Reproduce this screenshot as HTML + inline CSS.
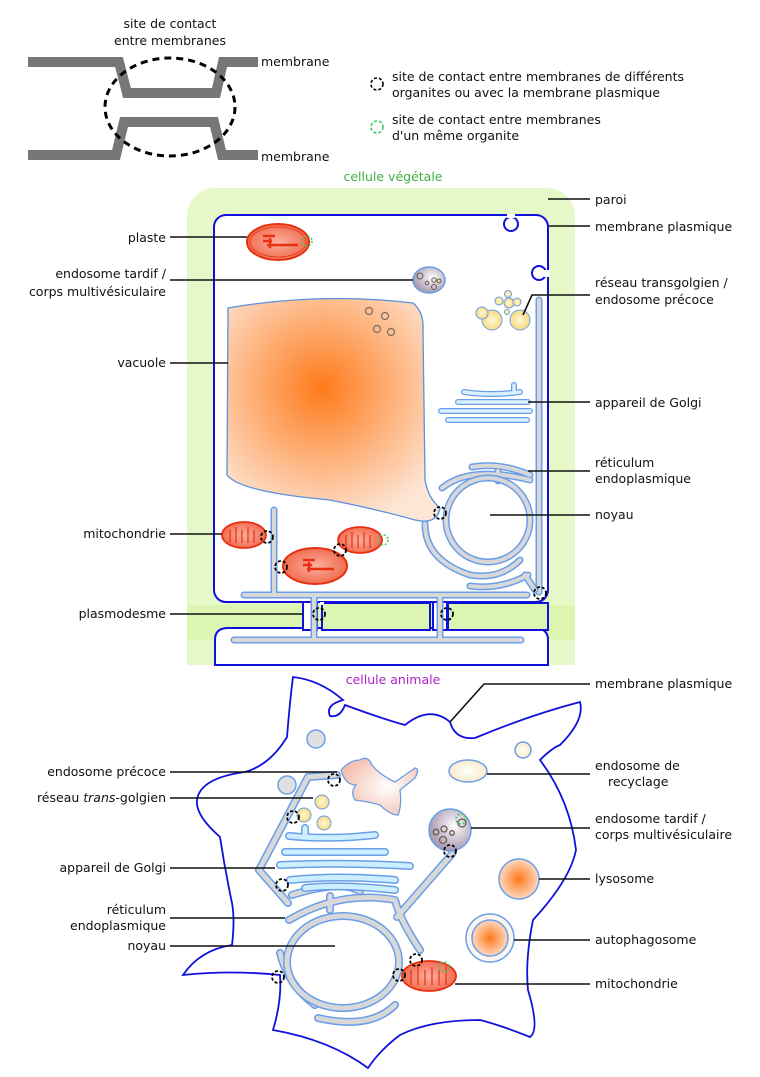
<!DOCTYPE html>
<html><head><meta charset="utf-8"><style>
html,body{margin:0;padding:0;background:#fff}
svg{display:block}
text{font-family:"DejaVu Sans","Liberation Sans",sans-serif;font-size:12.5px;fill:#111}
</style></head><body>
<svg width="760" height="1077" viewBox="0 0 760 1077" xmlns="http://www.w3.org/2000/svg">
<defs>
<radialGradient id="vac" cx="322" cy="388" r="140" gradientUnits="userSpaceOnUse">
<stop offset="0" stop-color="#ff7a1a"/><stop offset="1" stop-color="#fde6d6"/></radialGradient>
<radialGradient id="lys" cx="0.5" cy="0.5" r="0.5"><stop offset="0" stop-color="#ff7a1a"/><stop offset="1" stop-color="#fdd8c0"/></radialGradient>
<radialGradient id="mvb" cx="0.6" cy="0.4" r="0.6"><stop offset="0" stop-color="#fff"/><stop offset="1" stop-color="#a898b0"/></radialGradient>
<radialGradient id="yel" cx="0.5" cy="0.5" r="0.5"><stop offset="0" stop-color="#fff8d8"/><stop offset="1" stop-color="#f8dc80"/></radialGradient>
<radialGradient id="pink" cx="0.6" cy="0.5" r="0.6"><stop offset="0" stop-color="#fff"/><stop offset="1" stop-color="#f4c0b0"/></radialGradient>
<radialGradient id="cream" cx="0.5" cy="0.5" r="0.5"><stop offset="0" stop-color="#fff"/><stop offset="1" stop-color="#faeac8"/></radialGradient>
<radialGradient id="mito" cx="0.5" cy="0.5" r="0.6"><stop offset="0" stop-color="#fbb0a0"/><stop offset="1" stop-color="#f06040"/></radialGradient>
</defs>

<!-- contact site figure -->
<g fill="none" stroke="#777" stroke-width="10">
<polyline points="28,62 119,62 127,93 216,93 223,62 258,62"/>
<polyline points="28,155 116,155 124,122 214,122 222,155 258,155"/>
</g>
<ellipse cx="170" cy="107" rx="65" ry="49" fill="none" stroke="#000" stroke-width="3" stroke-dasharray="7,5"/>
<text x="170" y="28" text-anchor="middle">site de contact</text>
<text x="170" y="45" text-anchor="middle">entre membranes</text>
<text x="261" y="66">membrane</text>
<text x="261" y="161">membrane</text>

<circle cx="377" cy="84" r="6" fill="none" stroke="#000" stroke-width="1.6" stroke-dasharray="3,2"/>
<circle cx="377" cy="127" r="6" fill="none" stroke="#3c6" stroke-width="1.6" stroke-dasharray="3,2"/>
<text x="392" y="81">site de contact entre membranes de différents</text>
<text x="392" y="97">organites ou avec la membrane plasmique</text>
<text x="392" y="124">site de contact entre membranes</text>
<text x="392" y="140">d'un même organite</text>

<!-- plant cell -->
<text x="393" y="181" text-anchor="middle" style="fill:#3fb03f">cellule végétale</text>
<rect x="187" y="188" width="388" height="440" rx="28" fill="#e6f8c8"/>
<rect x="187" y="605" width="388" height="60" fill="#dcf5b0"/>
<rect x="214" y="215" width="334" height="387" rx="12" fill="#fff" stroke="#1010dd" stroke-width="2"/>
<path d="M215,665 L215,640 Q215,628 228,628 L534,628 Q548,628 548,640 L548,665 Z" fill="#fff" stroke="#1010dd" stroke-width="2"/>
<rect x="187" y="640" width="27" height="25" fill="#e6f8c8"/><rect x="549" y="640" width="26" height="25" fill="#e6f8c8"/>
<!-- plasmodesma region -->
<rect x="303" y="602" width="14" height="28" fill="#fff" stroke="#1010dd" stroke-width="2"/>
<rect x="322" y="603" width="108" height="27" fill="#dcf5b0" stroke="#1010dd" stroke-width="2"/>
<rect x="433" y="602" width="14" height="28" fill="#fff" stroke="#1010dd" stroke-width="2"/>
<rect x="448" y="603" width="100" height="27" fill="#dcf5b0" stroke="#1010dd" stroke-width="2"/>
<rect x="320" y="602" width="4" height="3" fill="#fff"/>
<g fill="none" stroke-linecap="round">
<path d="M244,595 L527,595 M314,595 L314,640 M440,595 L440,640 M234,640 L521,640 M274,595 L274,510 M539,592 L539,300" stroke="#6a9ee8" stroke-width="7"/>
<path d="M244,595 L527,595 M314,595 L314,640 M440,595 L440,640 M234,640 L521,640 M274,595 L274,510 M539,592 L539,300" stroke="#d8d8d8" stroke-width="4"/>
</g>
<!-- endocytic pits -->
<circle cx="511" cy="224" r="7" fill="#fff" stroke="#1010dd" stroke-width="2"/>
<rect x="507" y="214" width="8" height="4" fill="#fff"/>
<circle cx="539" cy="273" r="7" fill="#fff" stroke="#1010dd" stroke-width="2"/>
<rect x="544" y="270" width="6" height="7" fill="#fff"/>
<!-- vacuole -->
<path d="M228,308 Q320,292 413,303 Q424,312 423,330 L425,480 Q428,498 440,508 Q437,525 415,520 Q380,510 330,500 Q240,492 227,475 Z" fill="url(#vac)" stroke="#5a90e0" stroke-width="1.3"/>
<g fill="none" stroke="#7a6a60" stroke-width="1.2"><circle cx="369" cy="311" r="3.5"/><circle cx="385" cy="316" r="3.5"/><circle cx="377" cy="329" r="3.5"/><circle cx="391" cy="332" r="3.5"/></g>
<!-- plaste -->
<ellipse cx="278" cy="242" rx="31" ry="18" fill="url(#mito)" stroke="#e83010" stroke-width="2"/>
<ellipse cx="278" cy="242" rx="28" ry="15" fill="none" stroke="#e83010" stroke-width="0.8"/>
<path d="M263,236 H275 M263,241 H272 M267,245 H298 M270,238 V248" stroke="#e83010" stroke-width="2.5" fill="none"/>
<circle cx="307" cy="241" r="5" fill="none" stroke="#3c6" stroke-width="1.5" stroke-dasharray="2,2"/>
<!-- MVB plant -->
<ellipse cx="429" cy="280" rx="16" ry="13" fill="url(#mvb)" stroke="#6a9ee8" stroke-width="1.5"/>
<g fill="none" stroke="#6a5a50" stroke-width="1"><circle cx="420" cy="276" r="3"/><circle cx="434" cy="280" r="2.2"/><circle cx="427" cy="283" r="1.8"/><circle cx="439" cy="281" r="2"/><circle cx="434" cy="287" r="2.5"/></g>
<!-- TGN -->
<g fill="url(#yel)" stroke="#6a9ee8" stroke-width="1"><circle cx="492" cy="320" r="10"/><circle cx="520" cy="320" r="10"/><circle cx="482" cy="313" r="6"/><circle cx="509" cy="303" r="5"/><circle cx="517" cy="302" r="4"/><circle cx="508" cy="294" r="3.5"/><circle cx="507" cy="312" r="2.5"/><circle cx="499" cy="301" r="4"/></g>
<path d="M523,315 L532,295 L590,295" fill="none" stroke="#111" stroke-width="1.6"/>
<!-- Golgi plant -->
<g fill="none" stroke-linecap="round">
<path d="M464,392 Q490,396 520,392 M458,402 H528 M441,411 H530 M448,420 H527 M514,385 V392" stroke="#6a9ee8" stroke-width="6"/>
<path d="M464,392 Q490,396 520,392 M458,402 H528 M441,411 H530 M448,420 H527 M514,385 V392" stroke="#d8f0ff" stroke-width="3.5"/>
</g>
<!-- plant nucleus + ER -->
<g fill="none" stroke-linecap="round">
<path d="M472,467 Q500,462 530,475 M442,488 Q470,465 530,480 M425,524 Q425,560 470,575 Q500,580 520,560 M470,586 Q500,590 528,575 M525,575 L535,590 M498,471 L498,481" stroke="#6a9ee8" stroke-width="7"/>
<path d="M472,467 Q500,462 530,475 M442,488 Q470,465 530,480 M425,524 Q425,560 470,575 Q500,580 520,560 M470,586 Q500,590 528,575 M525,575 L535,590 M498,471 L498,481" stroke="#d8d8d8" stroke-width="4"/>
</g>
<circle cx="488" cy="520" r="42" fill="none" stroke="#6a9ee8" stroke-width="7"/>
<circle cx="488" cy="520" r="42" fill="none" stroke="#d8d8d8" stroke-width="4"/>
<!-- plant mitochondria -->
<g>
<ellipse cx="244" cy="535" rx="22" ry="13" fill="url(#mito)" stroke="#e83010" stroke-width="1.8"/>
<path d="M230,543 V530 M236,543 V527 M242,543 V530 M248,543 V527 M254,543 V530" stroke="#e83010" stroke-width="1.2" fill="none"/>
<ellipse cx="360" cy="540" rx="22" ry="13" fill="url(#mito)" stroke="#e83010" stroke-width="1.8"/>
<path d="M346,548 V535 M352,548 V532 M358,548 V535 M364,548 V532 M370,548 V535" stroke="#e83010" stroke-width="1.2" fill="none"/>
<ellipse cx="315" cy="566" rx="32" ry="18" fill="url(#mito)" stroke="#e83010" stroke-width="2"/>
<path d="M303,560 H315 M303,565 H312 M307,569 H334 M309,562 V572" stroke="#e83010" stroke-width="2.5" fill="none"/>
</g>
<g fill="none" stroke="#000" stroke-width="1.8" stroke-dasharray="3,2">
<circle cx="267" cy="537" r="6"/><circle cx="340" cy="550" r="6"/><circle cx="281" cy="567" r="6"/><circle cx="440" cy="513" r="6"/><circle cx="540" cy="593" r="6"/><circle cx="319" cy="614" r="6"/><circle cx="447" cy="614" r="6"/>
</g>
<circle cx="383" cy="540" r="5" fill="none" stroke="#3c6" stroke-width="1.5" stroke-dasharray="2,2"/>

<!-- plant labels -->
<g stroke="#111" stroke-width="1.6">
<line x1="548" y1="199" x2="590" y2="199"/><line x1="549" y1="226" x2="590" y2="226"/>
<line x1="528" y1="402" x2="590" y2="402"/><line x1="528" y1="471" x2="590" y2="471"/><line x1="490" y1="515" x2="590" y2="515"/>
<line x1="170" y1="237" x2="247" y2="237"/><line x1="170" y1="280" x2="413" y2="280"/><line x1="170" y1="363" x2="228" y2="363"/>
<line x1="170" y1="534" x2="222" y2="534"/><line x1="170" y1="614" x2="303" y2="614"/>
</g>
<text x="595" y="204">paroi</text><text x="595" y="231">membrane plasmique</text>
<text x="595" y="287">réseau transgolgien /</text><text x="595" y="304">endosome précoce</text>
<text x="595" y="407">appareil de Golgi</text>
<text x="595" y="467">réticulum</text><text x="595" y="483">endoplasmique</text>
<text x="595" y="519">noyau</text>
<g text-anchor="end">
<text x="166" y="242">plaste</text>
<text x="166" y="278">endosome tardif /</text><text x="166" y="296">corps multivésiculaire</text>
<text x="166" y="367">vacuole</text><text x="166" y="538">mitochondrie</text><text x="166" y="618">plasmodesme</text>
</g>

<!-- animal cell -->
<text x="393" y="684" text-anchor="middle" style="fill:#b020c8">cellule animale</text>
<path d="M293,677 Q320,680 343,700 Q325,705 330,716 Q340,718 345,705 Q380,718 405,725 Q430,705 450,722 Q455,740 475,738 Q530,715 580,702 Q585,720 560,745 Q552,748 540,760 Q570,800 576,850 Q570,880 533,920 Q525,960 528,990 Q540,1030 530,1037 Q500,1025 480,1020 Q430,1020 400,1035 Q380,1050 368,1068 Q330,1040 273,1030 Q282,1000 280,975 Q230,970 183,975 Q200,950 232,945 Q235,920 232,903 Q225,870 220,837 Q195,815 197,800 Q200,778 245,772 Q270,765 287,737 Q290,700 293,677 Z" fill="#fff" stroke="#1010dd" stroke-width="1.8"/>
<circle cx="316" cy="739" r="9" fill="#e0e0e0" stroke="#6a9ee8" stroke-width="1.5"/>
<circle cx="287" cy="785" r="9" fill="#e0e0e0" stroke="#6a9ee8" stroke-width="1.5"/>
<circle cx="523" cy="750" r="8" fill="url(#cream)" stroke="#6a9ee8" stroke-width="1.5"/>
<ellipse cx="468" cy="771" rx="19" ry="11" fill="url(#cream)" stroke="#6a9ee8" stroke-width="1.5"/>
<circle cx="519" cy="879" r="20" fill="url(#lys)" stroke="#6a9ee8" stroke-width="1.5"/>
<circle cx="490" cy="938" r="24" fill="#fdf6ee" stroke="#6a9ee8" stroke-width="1.5"/>
<circle cx="490" cy="938" r="18" fill="url(#lys)" stroke="#6a9ee8" stroke-width="1.5"/>
<!-- early endosome blob -->
<path d="M341,770 Q350,760 360,760 Q368,755 372,765 Q380,775 395,782 L415,768 Q420,768 415,778 L400,790 Q402,805 398,815 Q390,815 380,805 Q370,802 355,800 Q350,792 356,785 Q345,785 341,770 Z" fill="url(#pink)" stroke="#6a9ee8" stroke-width="1.3"/>
<g fill="url(#yel)" stroke="#6a9ee8" stroke-width="1"><circle cx="322" cy="802" r="7"/><circle cx="304" cy="815" r="7"/><circle cx="324" cy="823" r="7"/></g>
<!-- MVB animal -->
<circle cx="450" cy="830" r="21" fill="url(#mvb)" stroke="#6a9ee8" stroke-width="1.5"/>
<g fill="none" stroke="#6a5a50" stroke-width="1.3"><circle cx="436" cy="832" r="2.8"/><circle cx="444" cy="829" r="3"/><circle cx="452" cy="833" r="2.3"/><circle cx="443" cy="840" r="3.5"/><circle cx="462" cy="823" r="4"/></g>
<circle cx="461" cy="819" r="5" fill="none" stroke="#3c6" stroke-width="1.5" stroke-dasharray="2,2"/>
<!-- animal ER tubes -->
<g fill="none" stroke-linecap="round" stroke-linejoin="round">
<g id="er">
<path d="M337,775 L308,777 L259,870 L288,903 M397,917 L452,854 M292,895 Q340,880 360,891 M289,920 Q340,890 395,900 Q400,920 420,950 M300,948 Q295,1005 340,1010 Q390,1010 400,990 M318,1018 Q370,1030 395,1005 M280,953 Q288,985 315,1005 M330,896 V910"/>
</g>
</g>
<g fill="none" stroke-linecap="round" stroke-linejoin="round">
<path d="M337,775 L308,777 L259,870 L288,903 M397,917 L452,854 M292,895 Q340,880 360,891 M289,920 Q340,890 395,900 Q400,920 420,950 M280,953 Q288,985 315,1005 M318,1018 Q370,1030 395,1005 M330,896 V910" stroke="#6a9ee8" stroke-width="8"/>
<path d="M337,775 L308,777 L259,870 L288,903 M397,917 L452,854 M292,895 Q340,880 360,891 M289,920 Q340,890 395,900 Q400,920 420,950 M280,953 Q288,985 315,1005 M318,1018 Q370,1030 395,1005 M330,896 V910" stroke="#d8d8d8" stroke-width="5"/>
</g>
<ellipse cx="343" cy="962" rx="56" ry="46" fill="none" stroke="#6a9ee8" stroke-width="8"/>
<ellipse cx="343" cy="962" rx="56" ry="46" fill="none" stroke="#d8d8d8" stroke-width="5"/>
<!-- animal Golgi -->
<g fill="none" stroke-linecap="round">
<path d="M289,836 Q330,840 375,835 M285,852 H385 M280,865 Q340,862 410,866 M290,880 Q340,875 395,880 M305,888 Q340,884 395,890 M305,828 V836" stroke="#6a9ee8" stroke-width="8"/>
<path d="M289,836 Q330,840 375,835 M285,852 H385 M280,865 Q340,862 410,866 M290,880 Q340,875 395,880 M305,888 Q340,884 395,890 M305,828 V836" stroke="#ccefff" stroke-width="5"/>
</g>
<!-- animal mito -->
<ellipse cx="429" cy="976" rx="27" ry="15" fill="url(#mito)" stroke="#e83010" stroke-width="1.8"/>
<path d="M411,985 V970 M418,985 V967 M425,985 V970 M432,985 V967 M439,985 V970 M446,985 V967" stroke="#e83010" stroke-width="1.2" fill="none"/>
<circle cx="444" cy="967" r="5" fill="none" stroke="#3c6" stroke-width="1.5" stroke-dasharray="2,2"/>
<g fill="none" stroke="#000" stroke-width="1.8" stroke-dasharray="3,2">
<circle cx="334" cy="780" r="6"/><circle cx="293" cy="817" r="6"/><circle cx="282" cy="885" r="6"/><circle cx="450" cy="851" r="6"/><circle cx="416" cy="960" r="6"/><circle cx="399" cy="975" r="6"/><circle cx="278" cy="977" r="6"/>
</g>
<!-- animal labels -->
<g stroke="#111" stroke-width="1.6" fill="none">
<polyline points="450,722 484,684 590,684"/>
<line x1="487" y1="774" x2="590" y2="774"/><line x1="471" y1="828" x2="590" y2="828"/>
<line x1="539" y1="879" x2="590" y2="879"/><line x1="514" y1="940" x2="590" y2="940"/><line x1="455" y1="984" x2="590" y2="984"/>
<line x1="170" y1="772" x2="337" y2="772"/><line x1="170" y1="798" x2="313" y2="798"/><line x1="170" y1="868" x2="275" y2="868"/>
<line x1="170" y1="918" x2="285" y2="918"/><line x1="170" y1="946" x2="335" y2="946"/>
</g>
<text x="595" y="688">membrane plasmique</text>
<text x="595" y="770">endosome de</text><text x="608" y="786">recyclage</text>
<text x="595" y="823">endosome tardif /</text><text x="595" y="839">corps multivésiculaire</text>
<text x="595" y="883">lysosome</text><text x="595" y="944">autophagosome</text><text x="595" y="988">mitochondrie</text>
<g text-anchor="end">
<text x="166" y="776">endosome précoce</text>
<text x="166" y="802">réseau <tspan font-style="italic">trans</tspan>-golgien</text>
<text x="166" y="872">appareil de Golgi</text>
<text x="166" y="914">réticulum</text><text x="166" y="930">endoplasmique</text>
<text x="166" y="950">noyau</text>
</g>
</svg>
</body></html>
